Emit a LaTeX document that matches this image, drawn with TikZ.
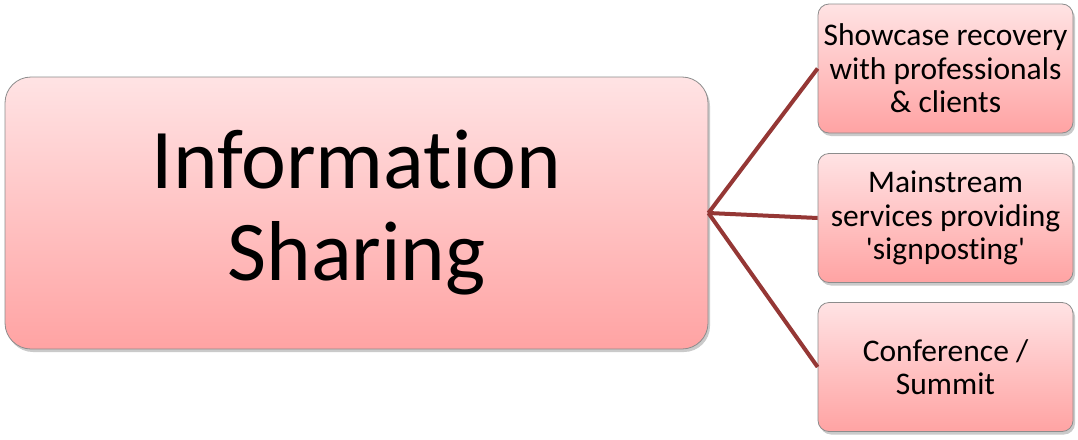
\documentclass[tikz,border=0pt]{standalone}
\usepackage{fontspec}
\setmainfont{Carlito}[Ligatures={NoCommon,TeX}]
\usetikzlibrary{shadows}
\definecolor{boxtop}{HTML}{FFE3E4}
\definecolor{boxbot}{HTML}{FFA3A3}
\definecolor{boxline}{HTML}{8C8C8C}
\definecolor{linkred}{HTML}{953735}
\tikzset{
  pinkbox/.style={draw=boxline, line width=0.8pt, top color=boxtop, bottom color=boxbot,
    drop shadow={shadow xshift=2pt, shadow yshift=-3pt, opacity=0.35, fill=black!60},
    align=center, inner sep=0pt},
  mainbox/.style={pinkbox, rounded corners=26pt, minimum width=703pt, minimum height=272pt,
    font=\fontsize{85}{92}\selectfont},
  sidebox/.style={pinkbox, rounded corners=11pt, minimum width=255pt, minimum height=129pt,
    font=\fontsize{31.5}{33.5}\selectfont},
  link/.style={draw=linkred, line width=4pt}
}
\begin{document}
\begin{tikzpicture}[x=1pt,y=1pt]
\useasboundingbox (0,0) rectangle (1078,-439);
\node[mainbox] (main) at (356.5,-213) {Information\\Sharing};
\node[sidebox] (s1) at (945.5,-68.5) {Showcase recovery\\with professionals\\\& clients};
\node[sidebox] (s2) at (945.5,-218) {Mainstream\\services providing\\\textquotesingle signposting\textquotesingle};
\node[sidebox] (s3) at (945.5,-367) {Conference /\\Summit};
\coordinate (hub) at (main.east);
\draw[link] (hub) -- (s1.west);
\draw[link] (hub) -- (s2.west);
\draw[link] (hub) -- (s3.west);
\end{tikzpicture}
\end{document}
